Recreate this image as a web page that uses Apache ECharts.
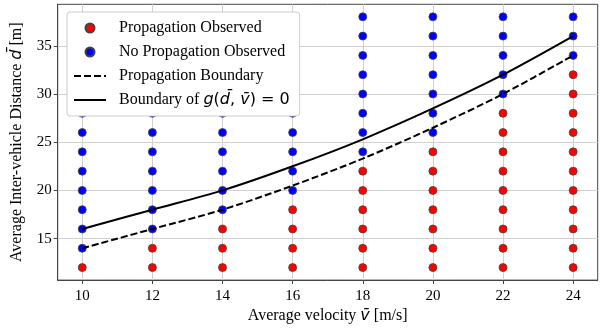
<!DOCTYPE html>
<html>
<head>
<meta charset="utf-8">
<script src="https://cdn.jsdelivr.net/npm/echarts@6/dist/echarts.min.js"></script>
<style>html,body{margin:0;padding:0;background:#fff}#c{width:607px;height:329px}</style>
</head>
<body>
<div id="c"></div>
<script>
// ---- data ----
const velocities = [10, 12, 14, 16, 18, 20, 22, 24];
const distances = [12, 14, 16, 18, 20, 22, 24, 26, 28, 30, 32, 34, 36, 38];
// highest distance at which propagation was observed, per velocity
const propagationMaxDistance = [12, 14, 16, 18, 22, 24, 28, 32];
const propagationBoundary = [14, 16, 18, 20.5, 23.3, 26.5, 30, 34];
const gBoundary = [16, 18, 20, 22.5, 25.3, 28.5, 32, 36];
const xTicks = [10, 12, 14, 16, 18, 20, 22, 24];
const yTicks = [15, 20, 25, 30, 35];

const observed = [], notObserved = [];
velocities.forEach((v, i) => {
  distances.forEach(d => {
    if (d <= propagationMaxDistance[i]) observed.push([v, d]);
    else notObserved.push([v, d]);
  });
});

const serif = 'Liberation Serif';
const math = 'DejaVu Sans';
const hidden = { color: 'rgba(0,0,0,0)', borderColor: 'rgba(0,0,0,0)', borderWidth: 0 };
const chart = echarts.init(document.getElementById('c'));
chart.setOption({
  animation: false,
  backgroundColor: '#fff',
  grid: { left: 57.7, right: 9.3, top: 4.3, bottom: 43.3, show: true, borderColor: '#444', borderWidth: 1, backgroundColor: 'transparent' },
  legend: {
    orient: 'vertical', left: 67, top: 12,
    itemWidth: 32, itemHeight: 9, itemGap: 8,
    padding: [8, 10, 8, 6],
    backgroundColor: '#ffffff', borderColor: '#cccccc', borderWidth: 1, borderRadius: 3,
    data: [
      { name: 'Propagation Observed', icon: 'circle' },
      { name: 'No Propagation Observed', icon: 'circle' },
      { name: 'Propagation Boundary', itemStyle: hidden },
      { name: 'Boundary of g', itemStyle: hidden }
    ],
    formatter: function (n) {
      if (n === 'Boundary of g') return '{t|Boundary of }{mi|g}{mr|(}{mi|d̄}{mr|, }{mi|v̄}{mr|) = 0}';
      return '{t|' + n + '}';
    },
    textStyle: {
      fontFamily: serif, fontSize: 16, color: '#000', padding: [0, 0, 0, 8],
      rich: {
        t: { fontFamily: serif, fontSize: 16, color: '#000', height: 16 },
        mi: { fontFamily: math, fontStyle: 'italic', fontSize: 16, color: '#000' },
        mr: { fontFamily: math, fontSize: 16, color: '#000' }
      }
    }
  },
  xAxis: {
    type: 'value', min: 9.3, max: 24.7,
    name: '{a|Average velocity }{m|v̄}{a| [m/s]}', nameLocation: 'middle', nameGap: 27,
    nameTextStyle: { rich: { a: { fontFamily: serif, fontSize: 16, color: '#000' }, m: { fontFamily: math, fontStyle: 'italic', fontSize: 16, color: '#000' } } },
    axisLine: { show: true, lineStyle: { color: '#444' } },
    axisTick: { show: true, inside: false, length: 4, customValues: xTicks, lineStyle: { color: '#444' } },
    axisLabel: { customValues: xTicks, fontFamily: serif, fontSize: 15, color: '#000', margin: 8 },
    splitLine: { show: true, lineStyle: { color: '#d0d0d0', width: 1 } }
  },
  yAxis: {
    type: 'value', min: 10.7, max: 39.3,
    name: '{a|Average Inter-vehicle Distance }{m|d̄}{a| [m]}', nameLocation: 'middle', nameGap: 33,
    nameTextStyle: { rich: { a: { fontFamily: serif, fontSize: 16, color: '#000' }, m: { fontFamily: math, fontStyle: 'italic', fontSize: 16, color: '#000' } } },
    axisLine: { show: true, lineStyle: { color: '#444' } },
    axisTick: { show: true, inside: false, length: 4, customValues: yTicks, lineStyle: { color: '#444' } },
    axisLabel: { customValues: yTicks, fontFamily: serif, fontSize: 15, color: '#000', margin: 6 },
    splitLine: { show: true, lineStyle: { color: '#d0d0d0', width: 1 } }
  },
  series: [
    { name: 'Propagation Observed', type: 'scatter', data: observed, symbolSize: 8, z: 2,
      itemStyle: { color: '#ff0000', borderColor: '#444', borderWidth: 0.8, opacity: 1 } },
    { name: 'No Propagation Observed', type: 'scatter', data: notObserved, symbolSize: 8, z: 2,
      itemStyle: { color: '#0000ff', borderColor: '#444', borderWidth: 0.8, opacity: 1 } },
    { name: 'Propagation Boundary', type: 'line', data: velocities.map((v, i) => [v, propagationBoundary[i]]),
      symbol: 'none', smooth: 0.3, z: 3, lineStyle: { color: '#000', width: 2, type: [7, 3] }, itemStyle: { color: '#000' } },
    { name: 'Boundary of g', type: 'line', data: velocities.map((v, i) => [v, gBoundary[i]]),
      symbol: 'none', smooth: 0.3, z: 3, lineStyle: { color: '#000', width: 2 }, itemStyle: { color: '#000' } }
  ]
});
</script>
</body>
</html>
